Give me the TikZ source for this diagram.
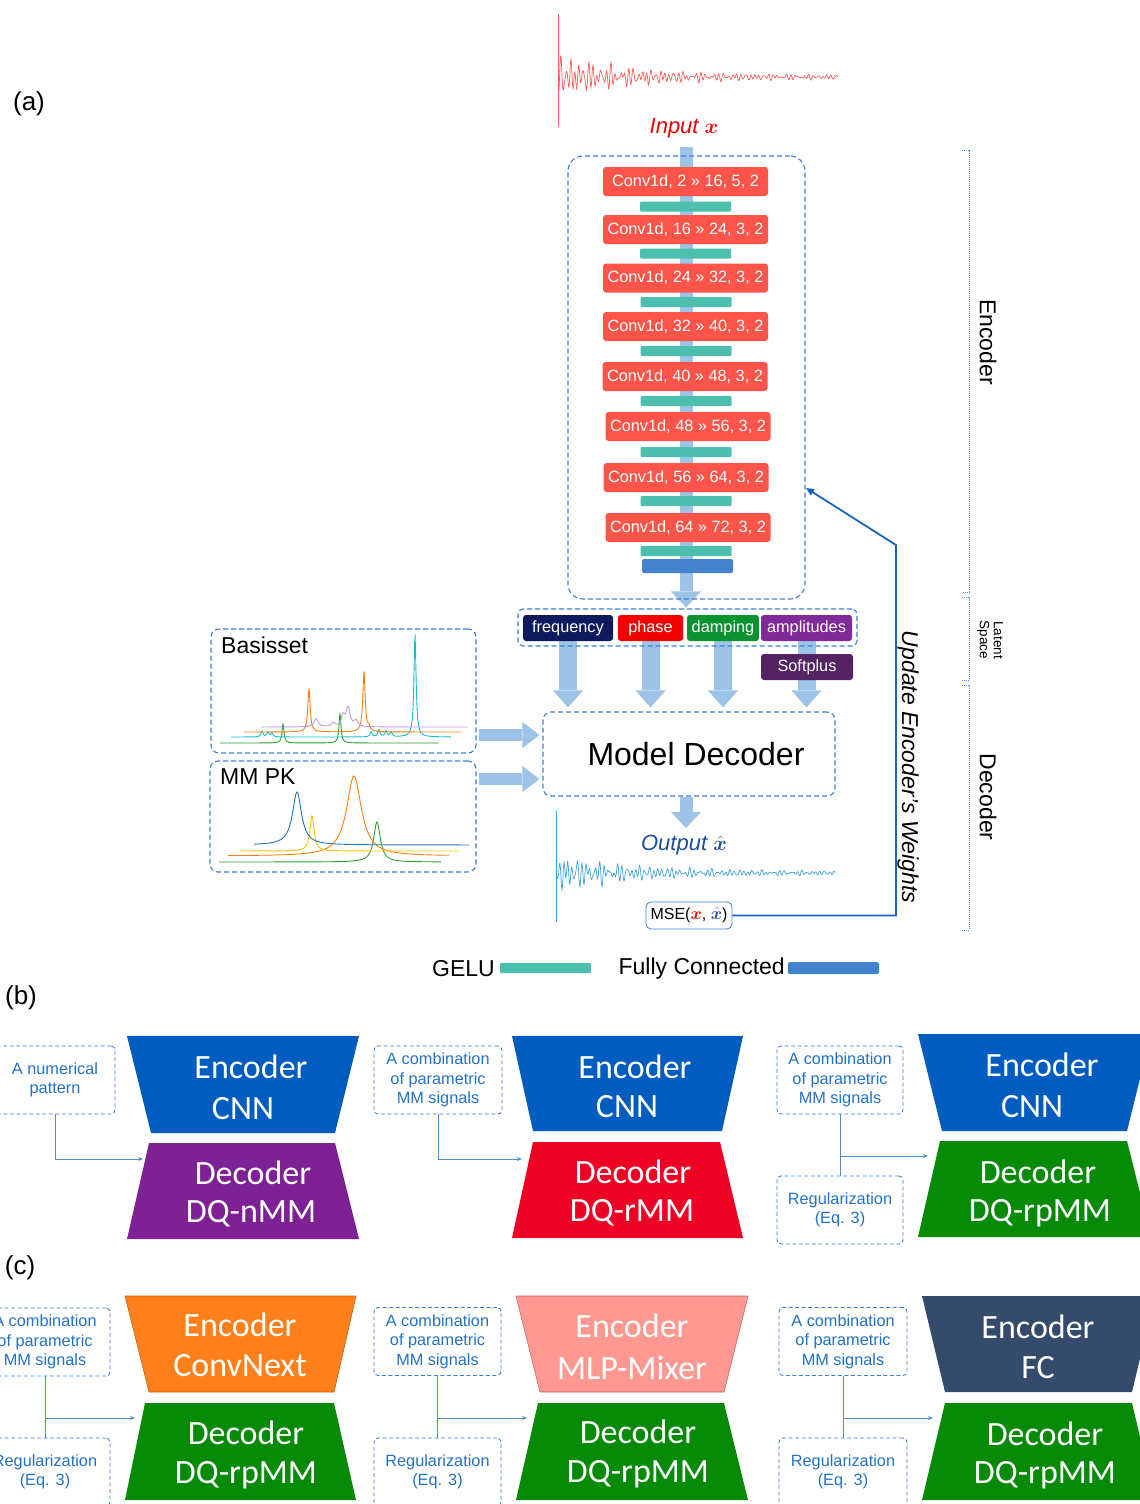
\documentclass[tikz,border=0pt]{standalone}
\usepackage{fontspec}
\setmainfont{Liberation Sans}
\newfontfamily\carl{Carlito}
\usepackage{amsmath,bm}
\usetikzlibrary{arrows.meta}
\definecolor{convred}{HTML}{FF5449}
\definecolor{geluteal}{HTML}{4DBFAF}
\definecolor{fcblue}{HTML}{4382CC}
\definecolor{dashblue}{HTML}{3C7FD8}
\definecolor{lblue}{HTML}{9DC3E6}
\definecolor{freqc}{HTML}{0D1B5E}
\definecolor{phasec}{HTML}{F20000}
\definecolor{dampc}{HTML}{0A9132}
\definecolor{ampc}{HTML}{7F2A98}
\definecolor{softc}{HTML}{532364}
\definecolor{fbblue}{HTML}{1565C0}
\definecolor{inred}{HTML}{F00000}
\definecolor{outblue}{HTML}{1F4E9A}
\definecolor{sigred}{HTML}{FF5A5A}
\definecolor{sigblue}{HTML}{3EA3DC}
\definecolor{tblue}{HTML}{2372C6}
\definecolor{brkblue}{HTML}{4A8CD0}
\definecolor{encblue}{HTML}{005CBF}
\definecolor{decpurple}{HTML}{7E2194}
\definecolor{decred}{HTML}{EE0025}
\definecolor{decgreen}{HTML}{078A07}
\definecolor{encorange}{HTML}{FF801A}
\definecolor{encpink}{HTML}{FF9891}
\definecolor{encslate}{HTML}{344B6B}
\definecolor{mplblue}{HTML}{1F77B4}
\definecolor{mplorange}{HTML}{FF7F0E}
\definecolor{mplgreen}{HTML}{2CA02C}
\definecolor{mplpurple}{HTML}{C29BDB}
\definecolor{mplcyan}{HTML}{17BECF}
\definecolor{mmyellow}{HTML}{FFC000}
\newcommand\fs[2]{\fontsize{#1}{#2}\selectfont}
\pgfdeclarelayer{bg}
\pgfsetlayers{bg,main}
\tikzset{
 conv/.style={fill=convred, rounded corners=3pt, minimum width=165pt, minimum height=29pt, text=white, font=\fs{16.3}{19}, inner sep=0pt},
 gelu/.style={fill=geluteal, minimum width=91pt, minimum height=10pt, inner sep=0pt, rounded corners=1pt},
 fcbar/.style={fill=fcblue, minimum width=91pt, minimum height=14pt, inner sep=0pt, rounded corners=1.5pt},
 dbox/.style={draw=dashblue, dash pattern=on 5pt off 3pt, line width=1.1pt, rounded corners=8pt, inner sep=0pt},
 param/.style={rounded corners=3pt, minimum height=26pt, inner sep=0pt, text=white, font=\fs{16.3}{19}},
 bigarrow/.style={line width=18pt, draw=lblue, -{Triangle[width=30pt,length=17pt,line width=0pt]}},
 pipe/.style={line width=13pt, draw=lblue, -{Triangle[width=30pt,length=16pt,line width=0pt]}},
 harrow/.style={line width=12pt, draw=lblue, -{Triangle[width=26pt,length=17pt,line width=0pt]}},
 tbox/.style={draw=dashblue, dash pattern=on 4pt off 2.5pt, line width=0.9pt, rounded corners=4pt, minimum height=68pt, align=center, text=tblue, font=\fs{16.3}{19.5}, inner sep=0pt},
 trtext/.style={text=white, font=\carl\fs{34}{40}, inner sep=0pt},
 brk/.style={draw=brkblue, densely dotted, line width=1pt},
 thinarr/.style={draw=tblue!80, line width=0.8pt, -{Stealth[length=5pt,width=4pt]}},
 thinline/.style={draw=tblue!80, line width=0.8pt},
 bigtext/.style={font=\fs{23}{26}, inner sep=0pt},
}
\begin{document}
\begin{tikzpicture}[x=1pt,y=-1pt,
 declare function={lor(\a,\b,\c)=1/(1+min(abs(\a-\b)/\c,100)^2);
  fid(\s)=(22*exp(-\s/75)+2.2)*(0.4*sin(80*mod(\s,9))+0.3*sin(100*mod(\s,18)+30)+0.25*sin(64*mod(\s,45)+100)+0.2*sin(35*mod(\s,72)+200));}]
\path[use as bounding box] (0,0) rectangle (1140,1504);
\clip (0,0) rectangle (1140,1504);

% ---------- panel labels
\node[font=\fs{26}{30}, inner sep=0pt] (la) at (29,104) {(a)};
\node[font=\fs{26}{30}, inner sep=0pt] (lb) at (21,998) {(b)};
\node[font=\fs{26}{30}, inner sep=0pt] (lc) at (20,1268) {(c)};

% ---------- input signal
\draw[sigred, line width=0.7pt] (558,14) -- (558,127);
\draw[sigred, line width=0.7pt] plot[domain=0:280, samples=561, variable=\t] ({558+\t},{77+fid(\t)});
\node[inner sep=0pt, text=inred, font=\itshape\fs{22}{26}] (inp) at (684,128) {Input \(\bm{x}\)};

% ---------- encoder
\node[dbox, rounded corners=15pt, minimum width=237pt, minimum height=443pt] (enc) at (686.5,377.5) {};
\node[conv] (c1) at (685.5,181.5) {Conv1d, 2 » 16, 5, 2};
\node[conv] (c2) at (685.5,229.5) {Conv1d, 16 » 24, 3, 2};
\node[conv] (c3) at (685.5,278) {Conv1d, 24 » 32, 3, 2};
\node[conv] (c4) at (685.5,326.5) {Conv1d, 32 » 40, 3, 2};
\node[conv] (c5) at (685,376.5) {Conv1d, 40 » 48, 3, 2};
\node[conv] (c6) at (688,426.5) {Conv1d, 48 » 56, 3, 2};
\node[conv] (c7) at (686,477.5) {Conv1d, 56 » 64, 3, 2};
\node[conv] (c8) at (688,527.5) {Conv1d, 64 » 72, 3, 2};
\node[gelu] (g1) at (685.5,206.5) {};
\node[gelu] (g2) at (685.5,253.5) {};
\node[gelu] (g3) at (686,302) {};
\node[gelu] (g4) at (686,351) {};
\node[gelu] (g5) at (686,401) {};
\node[gelu] (g6) at (686,452) {};
\node[gelu] (g7) at (686,501) {};
\node[gelu] (g8) at (686,551) {};
\node[fcbar] (fc) at (687.5,566) {};

% ---------- latent space
\node[dbox, rounded corners=5pt, minimum width=339pt, minimum height=37pt] (lat) at (687.5,627.5) {};
\node[param, fill=freqc, minimum width=90pt] (freq) at (568,628) {frequency};
\node[param, fill=phasec, minimum width=65pt] (phase) at (650.5,628) {phase};
\node[param, fill=dampc, minimum width=72pt] (damp) at (723,628) {damping};
\node[param, fill=ampc, minimum width=91pt] (amp) at (806.5,628) {amplitudes};
\node[param, fill=softc, minimum width=92pt] (soft) at (807,667) {Softplus};

% ---------- model decoder
\node[dbox, minimum width=292pt, minimum height=84pt, font=\fs{32}{36}] (mdec) at (689,754) {\hspace*{14pt}Model Decoder};

% ---------- basisset / MM PK
\node[dbox, minimum width=265pt, minimum height=124pt] (bas) at (343.5,691) {};
\node[bigtext, anchor=west] (bast) at (221,645) {Basisset};
\node[dbox, minimum width=266pt, minimum height=111pt] (mmpk) at (343,816.5) {};
\node[bigtext, anchor=west] (mmt) at (220,777) {MM PK};

\draw[mplgreen, line width=0.9pt] plot[domain=220:439, samples=600] (\x,{743-19*lor(\x,283,1.2)-29*lor(\x,340,1.2)});
\draw[mplcyan, line width=0.9pt] plot[domain=231:451, samples=700] (\x,{737-101*lor(\x,415,1.3)-6*lor(\x,262,1.2)-5*lor(\x,268,1.2)-4*lor(\x,272,1.2)-5*lor(\x,371,1.2)-7*lor(\x,379,1.3)-6*lor(\x,386,1.2)-5*lor(\x,391,1.2)});
\draw[mplorange, line width=0.9pt] plot[domain=244:461, samples=700] (\x,{732-43*lor(\x,309,1.4)-60*lor(\x,364,1.4)-4*lor(\x,369,1.5)});
\draw[mplpurple, line width=0.9pt] plot[domain=261:468, samples=500] (\x,{727-8*lor(\x,316,2.5)-4*lor(\x,333,2)-10*lor(\x,343,2)-19*lor(\x,348,2.5)-6*lor(\x,356,2)});

\draw[mplgreen, line width=0.9pt] plot[domain=219:441, samples=400] (\x,{862-40*lor(\x,377,4)});
\draw[mplorange, line width=0.9pt] plot[domain=228:449, samples=400] (\x,{856-80*lor(\x,354,9)});
\draw[mmyellow, line width=0.9pt] plot[domain=240:459, samples=400] (\x,{851-35*lor(\x,312,2.5)});
\draw[mplblue, line width=0.9pt] plot[domain=254:469, samples=400] (\x,{845-53*lor(\x,297,5.5)});

% ---------- output
\coordinate (otip) at (686,828);
\node[inner sep=0pt, text=outblue, font=\itshape\fs{22}{26}] (outl) at (684,845) {Output \(\hat{\bm{x}}\)};
\draw[sigblue, line width=0.7pt] (556,811) -- (556,922);
\draw[sigblue, line width=0.7pt] plot[domain=0:279, samples=559, variable=\t] ({556+\t},{873-0.95*fid(\t+7)});
\node[draw=dashblue, line width=0.8pt, rounded corners=5pt, minimum width=86pt, minimum height=27pt, inner sep=0pt, font=\fs{16}{19}] (mse) at (689,915.5) {MSE(\(\textcolor{inred}{\bm{x}}\), \(\textcolor{outblue}{\hat{\bm{x}}}\))};

% ---------- feedback
\coordinate (fbend) at (806,488);
\coordinate (fbc) at (896,545);
\draw[fbblue, line width=1.8pt, -{Triangle[length=8pt,width=7pt]}] (mse.east) -| (fbc) -- (fbend);
\node[rotate=-90, font=\itshape\fs{23}{26}, inner sep=0pt] (upd) at (908,767) {Update Encoder’s Weights};

% ---------- brackets
\draw[brk] (962,150) -- (969,150) -- (969,592) -- (962,592);
\draw[brk] (962,597) -- (969,597) -- (969,680) -- (962,680);
\draw[brk] (962,685) -- (969,685) -- (969,930) -- (962,930);
\node[rotate=-90, bigtext] (encl) at (988,342) {Encoder};
\node[rotate=-90, font=\fs{13.5}{14}, align=center, inner sep=0pt] (latl) at (990,640) {Latent\\Space};
\node[rotate=-90, bigtext] (decl) at (988,797) {Decoder};

% ---------- legend
\node[bigtext, anchor=east] (gl) at (495,969) {GELU};
\node[gelu] (glbar) at (545.5,968) {};
\node[bigtext, anchor=east] (fl) at (785,969) {Fully Connected};
\node[fcbar, minimum height=12pt] (flbar) at (833.5,968) {};

% ---------- big arrows (background)
\coordinate (pipetop) at (686,147);
\coordinate (ba1) at (479,735);
\coordinate (ba2) at (479,779);
\begin{pgfonlayer}{bg}
\draw[pipe, shorten >=1pt] (pipetop) -- (pipetop |- lat.north);
\draw[bigarrow, shorten >=4pt] (freq.south) -- (freq.south |- mdec.north);
\draw[bigarrow, shorten >=4pt] (phase.south) -- (phase.south |- mdec.north);
\draw[bigarrow, shorten >=4pt] (damp.south) -- (damp.south |- mdec.north);
\draw[bigarrow, shorten >=4pt] (amp.south) -- (amp.south |- mdec.north);
\draw[harrow, shorten >=3pt] (ba1) -- (ba1 -| mdec.west);
\draw[harrow, shorten >=3pt] (ba2) -- (ba2 -| mdec.west);
\draw[pipe] (otip |- mdec.south) -- (otip);
\end{pgfonlayer}

% ================= panel (b)
% group 1
\fill[encblue] (127,1036) -- (359,1036) -- (335,1133) -- (151,1133) -- cycle;
\fill[decpurple] (149,1143) -- (335,1143) -- (359,1239) -- (127,1239) -- cycle;
\node[trtext] (b1e) at (251,1067) {Encoder};
\node[trtext] (b1c) at (243,1109) {CNN};
\node[trtext] (b1d) at (253,1173) {Decoder};
\node[trtext] (b1m) at (251,1214) {DQ-nMM};
\node[tbox, minimum width=120pt] (nb1) at (55,1080) {A numerical\\pattern};
\coordinate (tb1) at (143,1159);
\draw[thinarr] (nb1.south) |- (tb1);
% group 2
\fill[encblue] (512,1036) -- (743,1036) -- (722,1131) -- (533,1131) -- cycle;
\fill[decred] (533,1142) -- (720,1142) -- (743,1238) -- (512,1238) -- cycle;
\node[trtext] (b2e) at (635,1067) {Encoder};
\node[trtext] (b2c) at (627,1107) {CNN};
\node[trtext] (b2d) at (633,1172) {Decoder};
\node[trtext] (b2m) at (632,1213) {DQ-rMM};
\node[tbox, minimum width=128pt] (nb2) at (438,1080) {A combination\\of parametric\\MM signals};
\coordinate (tb2) at (522,1159);
\draw[thinarr] (nb2.south) |- (tb2);
% group 3
\fill[encblue] (918,1034) -- (1151,1034) -- (1127,1131) -- (942,1131) -- cycle;
\fill[decgreen] (940,1141) -- (1127,1141) -- (1151,1237) -- (918,1237) -- cycle;
\node[trtext] (b3e) at (1042,1065) {Encoder};
\node[trtext] (b3c) at (1032,1107) {CNN};
\node[trtext] (b3d) at (1038,1172) {Decoder};
\node[trtext] (b3m) at (1040,1213) {DQ-rpMM};
\node[tbox, minimum width=126pt] (nb3) at (840,1080) {A combination\\of parametric\\MM signals};
\node[tbox, minimum width=126pt] (rb3) at (840,1210) {Regularization\\(Eq. 3)};
\coordinate (tb3) at (928,1156);
\draw[thinline] (nb3.south) -- (rb3.north);
\draw[thinarr] (nb3.south |- tb3) -- (tb3);

% ================= panel (c)
% group 1
\filldraw[fill=encorange, draw=encorange!75!black, line width=0.6pt] (125,1296) -- (356,1296) -- (334,1392) -- (149,1392) -- cycle;
\fill[decgreen] (145,1403) -- (334,1403) -- (356,1500) -- (125,1500) -- cycle;
\node[trtext] (c1e) at (240,1325) {Encoder};
\node[trtext] (c1c) at (240,1366) {ConvNext};
\node[trtext] (c1d) at (246,1433) {Decoder};
\node[trtext] (c1m) at (246,1475) {DQ-rpMM};
\node[tbox, minimum width=130pt] (nc1) at (45,1342) {A combination\\of parametric\\MM signals};
\node[tbox, minimum width=130pt] (rc1) at (45,1472) {Regularization\\(Eq. 3)};
\coordinate (tc1) at (135,1418);
\draw[thinline] (nc1.south) -- (rc1.north);
\draw[thinarr] (nc1.south |- tc1) -- (tc1);
% group 2
\filldraw[fill=encpink, draw=encpink!70!black, line width=0.6pt] (516,1296) -- (748,1296) -- (724,1392) -- (540,1392) -- cycle;
\fill[decgreen] (538,1403) -- (724,1403) -- (748,1500) -- (516,1500) -- cycle;
\node[trtext] (c2e) at (632,1326) {Encoder};
\node[trtext] (c2c) at (632,1368) {MLP-Mixer};
\node[trtext] (c2d) at (638,1432) {Decoder};
\node[trtext] (c2m) at (638,1474) {DQ-rpMM};
\node[tbox, minimum width=127pt] (nc2) at (437.5,1341.5) {A combination\\of parametric\\MM signals};
\node[tbox, minimum width=127pt] (rc2) at (437.5,1472) {Regularization\\(Eq. 3)};
\coordinate (tc2) at (527,1418);
\draw[thinline] (nc2.south) -- (rc2.north);
\draw[thinarr] (nc2.south |- tc2) -- (tc2);
% group 3
\fill[encslate] (922,1296) -- (1155,1296) -- (1132,1392) -- (945,1392) -- cycle;
\fill[decgreen] (945,1403) -- (1132,1403) -- (1155,1500) -- (922,1500) -- cycle;
\node[trtext] (c3e) at (1038,1327) {Encoder};
\node[trtext] (c3c) at (1038,1368) {FC};
\node[trtext] (c3d) at (1045,1434) {Decoder};
\node[trtext] (c3m) at (1045,1475) {DQ-rpMM};
\node[tbox, minimum width=128pt] (nc3) at (843,1341.5) {A combination\\of parametric\\MM signals};
\node[tbox, minimum width=128pt] (rc3) at (843,1472) {Regularization\\(Eq. 3)};
\coordinate (tc3) at (933,1418);
\draw[thinline] (nc3.south) -- (rc3.north);
\draw[thinarr] (nc3.south |- tc3) -- (tc3);
\end{tikzpicture}
\end{document}
